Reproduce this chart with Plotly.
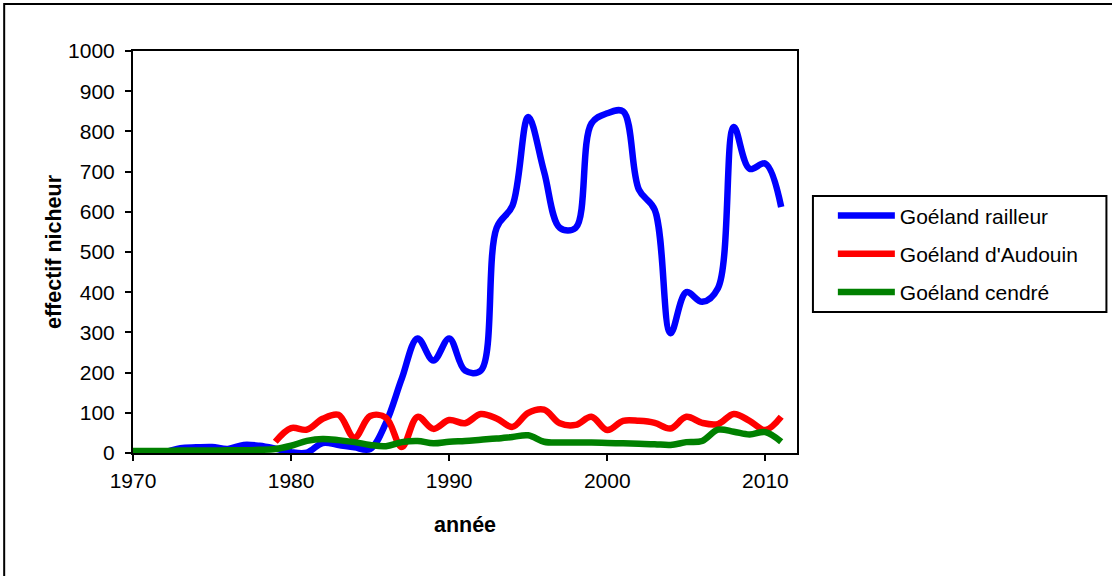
import plotly.graph_objects as go

# breeding pairs per year
years = list(range(1970, 2012))
years_audouin = list(range(1979, 2012))

railleur = [0, 0, 2, 12, 14, 15, 10, 20, 18, 11,
            2, 1, 25, 20, 14, 10, 75, 185, 285, 230,
            285, 205, 205, 560, 615, 836, 700, 560, 560, 820,
            845, 850, 655, 605, 298, 400, 376, 410, 811, 707,
            720, 612]

audouin = [28, 62, 58, 85, 95, 38, 92, 88, 15, 90,
           60, 82, 74, 97, 86, 65, 100, 108, 74, 70,
           90, 57, 80, 80, 75, 61, 90, 75, 72, 97,
           80, 57, 90]

cendre = [5, 5, 5, 6, 6, 6, 7, 7, 8, 10,
          18, 30, 35, 32, 27, 20, 17, 27, 30, 24,
          28, 30, 33, 36, 40, 44, 28, 26, 26, 26,
          25, 24, 23, 22, 20, 27, 30, 58, 53, 46,
          52, 28]

FONT = "Liberation Sans, Arial, sans-serif"

fig = go.Figure()
series = [
    ("Goéland railleur", years, railleur, "#0000ff"),
    ("Goéland d'Audouin", years_audouin, audouin, "#ff0000"),
    ("Goéland cendré", years, cendre, "#008000"),
]
for name, xs, ys, col in series:
    fig.add_trace(go.Scatter(
        x=xs, y=ys, name=name, mode="lines", legendgroup=name,
        line=dict(color=col, width=6.5, shape="spline", smoothing=1.0),
    ))

axis_common = dict(
    showline=True, linecolor="black", linewidth=2, mirror=True,
    ticks="outside", ticklen=6, tickwidth=1.5, tickcolor="black",
    showgrid=False, zeroline=False,
    tickfont=dict(family=FONT, size=21, color="black"),
)
title_font = dict(family=FONT, size=21.5, color="black")

fig.update_xaxes(range=[1970, 2012], tick0=1970, dtick=10, ticklabelstandoff=2,
                 title=dict(text="<b>année</b>", standoff=26, font=title_font),
                 **axis_common)
fig.update_yaxes(range=[0, 1000], dtick=100, ticklabelstandoff=6,
                 title=dict(text="<b>effectif nicheur</b>", standoff=1, font=title_font),
                 **axis_common)

fig.update_layout(
    width=1112, height=576,
    margin=dict(l=133, r=315, t=51, b=123),
    plot_bgcolor="white", paper_bgcolor="white",
    font=dict(family=FONT, size=21, color="black"),
    showlegend=True,
    legend=dict(x=1.054, y=0.641, xanchor="left", yanchor="top",
                bgcolor="rgba(0,0,0,0)", borderwidth=0,
                tracegroupgap=8, itemwidth=57,
                font=dict(family=FONT, size=21, color="black")),
    shapes=[
        # legend frame
        dict(type="rect", xref="paper", yref="paper",
             x0=1.024, x1=1.466, y0=0.351, y1=0.639,
             line=dict(color="black", width=2), fillcolor="rgba(0,0,0,0)"),
        # chart area frame
        dict(type="rect", xref="paper", yref="paper",
             x0=-0.194, x1=1.5, y0=-0.4, y1=1.117,
             line=dict(color="black", width=2), fillcolor="rgba(0,0,0,0)"),
    ],
)

fig.write_html("out.html", config={"displayModeBar": False},
               post_script="document.body.style.margin='0';")
